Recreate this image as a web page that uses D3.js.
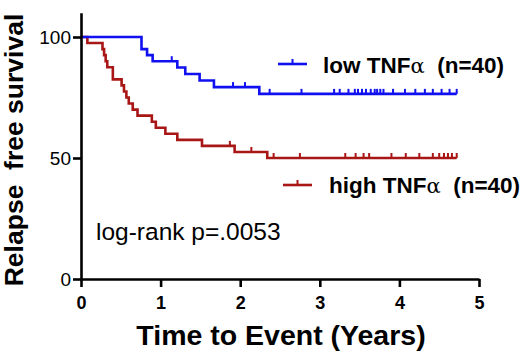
<!DOCTYPE html>
<html>
<head>
<meta charset="utf-8">
<script src="https://cdn.jsdelivr.net/npm/d3@7"></script>
<style>
  body { margin: 0; background: #fff; }
  text { font-family: "Liberation Sans", Arial, sans-serif; }
</style>
</head>
<body>
<script>
// step data: time (years) of each drop and survival (%) after it
var lowTimes = [0.76, 0.83, 0.90, 1.21, 1.31, 1.49, 1.67, 2.24];
var lowSurv = [95, 92.5, 90, 87.4, 84.7, 82.0, 79.3, 76.5];
var lowCensor = [1.14, 1.91, 2.06, 2.37, 2.77, 3.18, 3.25, 3.36, 3.44, 3.48, 3.53, 3.58, 3.64,
  3.69, 3.72, 3.76, 3.80, 3.92, 4.07, 4.20, 4.32, 4.42, 4.53, 4.63, 4.72];
var lowEnd = 4.72;

var highTimes = [0.08, 0.27, 0.29, 0.31, 0.33, 0.40, 0.40, 0.51, 0.54, 0.57, 0.60, 0.65, 0.71,
  0.89, 0.94, 1.06, 1.21, 1.52, 1.93, 2.34];
var highSurv = [97.5, 95, 92.5, 90, 87.5, 85, 82.5, 80, 77.5, 75, 72.5, 70, 67.5,
  65, 62.5, 60, 57.5, 55, 52.5, 50];
var highCensor = [1.87, 2.14, 2.42, 2.75, 3.32, 3.45, 3.55, 3.62, 3.90, 4.08, 4.25, 4.42,
  4.50, 4.56, 4.61, 4.66, 4.72];
var highEnd = 4.72;

var xTicks = [0, 1, 2, 3, 4, 5];
var yTicks = [0, 50, 100];

var svg = d3.select("body").append("svg")
  .attr("width", 520)
  .attr("height", 354);

var x = d3.scaleLinear().domain([0, 5]).range([81, 479]);
var y = d3.scaleLinear().domain([0, 110]).range([279, 12.8]);

// build KM step points from drops
function stepPoints(times, surv, end) {
  var pts = [[0, 100]];
  var s = 100;
  times.forEach(function(t, i) {
    pts.push([t, s]);
    s = surv[i];
    pts.push([t, s]);
  });
  pts.push([end, s]);
  return pts;
}
function survAt(times, surv, t) {
  var s = 100;
  times.forEach(function(tt, i) { if (tt <= t) s = surv[i]; });
  return s;
}

var line = d3.line()
  .x(function(d) { return x(d[0]); })
  .y(function(d) { return y(d[1]); });

function drawCurve(times, surv, end, censor, color) {
  svg.append("path")
    .datum(stepPoints(times, surv, end))
    .attr("d", line)
    .attr("fill", "none")
    .attr("stroke", color)
    .attr("stroke-width", 2.6);
  svg.selectAll(null)
    .data(censor)
    .enter().append("line")
    .attr("x1", function(d) { return x(d); })
    .attr("x2", function(d) { return x(d); })
    .attr("y1", function(d) { return y(survAt(times, surv, d)); })
    .attr("y2", function(d) { return y(survAt(times, surv, d)) - 5; })
    .attr("stroke", color)
    .attr("stroke-width", 2);
}

var blue = "#1010f0";
var red = "#a81616";

drawCurve(highTimes, highSurv, highEnd, highCensor, red);
drawCurve(lowTimes, lowSurv, lowEnd, lowCensor, blue);

// axes
var yAxis = svg.append("g")
  .attr("transform", "translate(" + x(0) + ",0)")
  .call(d3.axisLeft(y).tickValues(yTicks).tickSize(8).tickSizeOuter(0).tickPadding(2));
yAxis.selectAll("text")
  .attr("font-size", 19)
  .attr("fill", "#000");

var xAxis = svg.append("g")
  .attr("transform", "translate(0," + y(0) + ")")
  .call(d3.axisBottom(x).tickValues(xTicks).tickFormat(d3.format("d"))
    .tickSize(8).tickSizeOuter(0).tickPadding(9));
xAxis.selectAll("text")
  .attr("font-size", 18)
  .attr("font-weight", "bold")
  .attr("fill", "#000");

svg.selectAll(".domain, .tick line")
  .attr("stroke", "#000")
  .attr("stroke-width", 2.6);

// axis titles
svg.append("text")
  .attr("x", 281)
  .attr("y", 345)
  .attr("text-anchor", "middle")
  .style("font-size", "28.5px")
  .style("font-weight", "bold")
  .text("Time to Event (Years)");

svg.append("text")
  .attr("transform", "translate(23,150) rotate(-90)")
  .attr("text-anchor", "middle")
  .style("font-size", "26.5px")
  .style("font-weight", "bold")
  .style("white-space", "pre")
  .text("Relapse  free survival");

// legend
var legend = [
  { label: "low TNF", color: blue, lx: 278, ly: 64, tx: 323, ty: 73 },
  { label: "high TNF", color: red, lx: 283, ly: 185, tx: 329, ty: 193 }
];
legend.forEach(function(d) {
  svg.append("line")
    .attr("x1", d.lx).attr("x2", d.lx + 29)
    .attr("y1", d.ly).attr("y2", d.ly)
    .attr("stroke", d.color).attr("stroke-width", 2.6);
  svg.append("line")
    .attr("x1", d.lx + 14.5).attr("x2", d.lx + 14.5)
    .attr("y1", d.ly).attr("y2", d.ly - 5)
    .attr("stroke", d.color).attr("stroke-width", 2);
  var t = svg.append("text")
    .attr("x", d.tx).attr("y", d.ty)
    .style("font-size", "22.5px")
    .style("font-weight", "bold")
    .style("white-space", "pre");
  t.append("tspan").text(d.label);
  t.append("tspan").style("font-weight", "normal").style("font-family", "DejaVu Serif").style("font-size", "21px").text("α");
  t.append("tspan").text("  (n=40)");
});

svg.append("text")
  .attr("x", 96)
  .attr("y", 240)
  .style("font-size", "24.5px")
  .text("log-rank p=.0053");
</script>
</body>
</html>
